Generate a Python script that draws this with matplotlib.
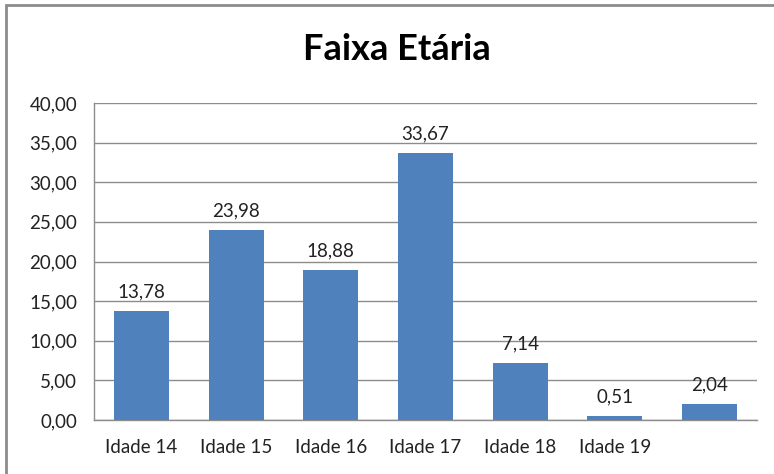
import matplotlib
matplotlib.use("Agg")
import matplotlib.pyplot as plt
from matplotlib.patches import Rectangle

categories = ["Idade 14", "Idade 15", "Idade 16", "Idade 17", "Idade 18", "Idade 19", ""]
values = [13.78, 23.98, 18.88, 33.67, 7.14, 0.51, 2.04]
yticks = [0, 5, 10, 15, 20, 25, 30, 35, 40]

plt.rcParams["font.family"] = ["Lato", "DejaVu Sans"]

BAR = "#4F81BD"
GRID = "#8C8C8C"


def br(v):
    return f"{v:.2f}".replace(".", ",")


fig = plt.figure(figsize=(7.74, 4.74), dpi=100)
ax = fig.add_axes([94 / 774, 54 / 474, 663 / 774, 317 / 474])

x = list(range(len(categories)))
ax.bar(x, values, width=0.58, color=BAR, zorder=3)

for xi, v in zip(x, values):
    ax.annotate(br(v), (xi, v), xytext=(0, 10), textcoords="offset points",
                ha="center", va="baseline", fontsize=13.5, color="#222222")

ax.set_xlim(-0.5, len(categories) - 0.5)
ax.set_ylim(0, 40)
ax.set_yticks(yticks)
ax.set_yticklabels([br(t) for t in yticks], fontsize=13.5, color="#222222")
ax.set_xticks(x)
ax.set_xticklabels(categories, fontsize=13.5, color="#222222")
ax.tick_params(length=0)
ax.tick_params(axis="x", pad=14)
ax.tick_params(axis="y", pad=12)

ax.grid(axis="y", color=GRID, linewidth=1, zorder=0)
for s in ["top", "right"]:
    ax.spines[s].set_visible(False)
for s in ["left", "bottom"]:
    ax.spines[s].set_color(GRID)
    ax.spines[s].set_linewidth(1)

fig.text(397 / 774, 1 - 50 / 474, "Faixa Etária", ha="center", va="center",
         fontsize=26, fontweight="bold", color="black")

# outer chart border (cut off at right and bottom in the source)
fig.patches.append(Rectangle((6 / 774, -0.1), 1.0, 1 - 5 / 474 + 0.1,
                             transform=fig.transFigure, fill=False,
                             edgecolor="#8C8C8C", linewidth=2))

fig.savefig("out.png", dpi=100)
